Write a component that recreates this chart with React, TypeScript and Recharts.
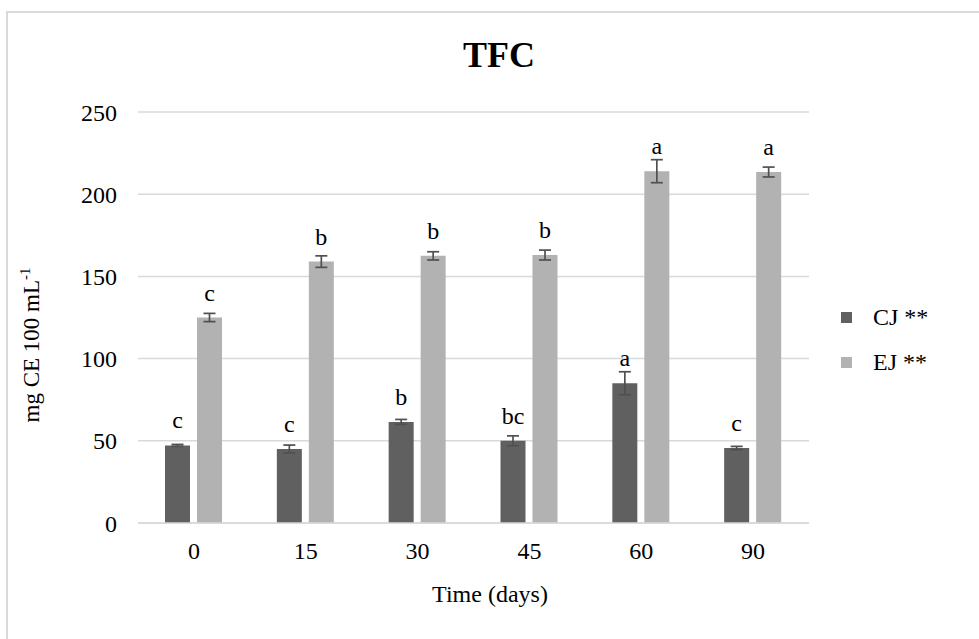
import { BarChart, Bar, XAxis, YAxis, CartesianGrid, ErrorBar, LabelList, Legend } from "recharts";

const days = ["0", "15", "30", "45", "60", "90"];
const cjValues = [47.2, 45, 61.5, 50, 85, 45.6];
const cjErrors = [0.6, 2.4, 1.5, 3, 7, 1];
const ejValues = [125, 159, 162.5, 163, 214, 213.5];
const ejErrors = [2.5, 3.5, 2.5, 3, 7, 3];
const cjLetters = ["c", "c", "b", "bc", "a", "c"];
const ejLetters = ["c", "b", "b", "b", "a", "a"];
const yTicks = [0, 50, 100, 150, 200, 250];

const data = days.map((d, i) => ({
  day: d,
  cj: cjValues[i],
  cjErr: cjErrors[i],
  cjLetter: cjLetters[i],
  ej: ejValues[i],
  ejErr: ejErrors[i],
  ejLetter: ejLetters[i],
}));

const FONT = "'Liberation Serif', 'Times New Roman', serif";
const CJ_COLOR = "#606060";
const EJ_COLOR = "#b2b2b2";
const GRID = "#d9d9d9";

const legendItems = [
  { label: "CJ **", color: CJ_COLOR },
  { label: "EJ **", color: EJ_COLOR },
];

function LegendBox() {
  return (
    <div style={{ fontFamily: FONT, fontSize: 24, color: "#000" }}>
      {legendItems.map((it) => (
        <div key={it.label} style={{ display: "flex", alignItems: "center", height: 45 }}>
          <span style={{ width: 11, height: 11, background: it.color, display: "inline-block", marginRight: 21 }} />
          <span>{it.label}</span>
        </div>
      ))}
    </div>
  );
}

export default function App() {
  return (
    <div style={{ position: "absolute", left: 0, top: 0, width: 979, height: 639, background: "#fff" }}>
      <svg width={979} height={639} style={{ position: "absolute", left: 0, top: 0 }}>
        <rect x={7} y={12} width={1000} height={700} fill="none" stroke={GRID} strokeWidth={2} />
      </svg>
      <div style={{ position: "absolute", left: 0, top: 0 }}>
        <BarChart
          width={979}
          height={639}
          data={data}
          margin={{ top: 112, right: 170, bottom: 86, left: 78 }}
          barSize={25}
          barGap={7}
        >
          <CartesianGrid vertical={false} stroke={GRID} strokeWidth={1.5} />
          <XAxis
            dataKey="day"
            height={30}
            axisLine={{ stroke: GRID, strokeWidth: 1.5 }}
            tickLine={false}
            tickSize={0}
            tickMargin={19}
            tick={{ fontFamily: FONT, fontSize: 24, fill: "#000" }}
          />
          <YAxis
            width={60}
            domain={[0, 250]}
            ticks={yTicks}
            axisLine={false}
            tickLine={false}
            tickSize={0}
            tickMargin={21}
            tick={{ fontFamily: FONT, fontSize: 24, fill: "#000" }}
          />
          <Legend
            layout="vertical"
            align="center"
            verticalAlign="middle"
            content={() => <LegendBox />}
            wrapperStyle={{ left: 841, top: 295, width: 130 }}
          />
          <Bar dataKey="cj" name="CJ **" fill={CJ_COLOR} isAnimationActive={false}>
            <ErrorBar dataKey="cjErr" width={6} stroke="#505050" strokeWidth={1.7} direction="y" />
            <LabelList dataKey="cjLetter" position="top" offset={17} style={{ fontFamily: FONT, fontSize: 24, fill: "#000" }} />
          </Bar>
          <Bar dataKey="ej" name="EJ **" fill={EJ_COLOR} isAnimationActive={false}>
            <ErrorBar dataKey="ejErr" width={6} stroke="#505050" strokeWidth={1.7} direction="y" />
            <LabelList dataKey="ejLetter" position="top" offset={17} style={{ fontFamily: FONT, fontSize: 24, fill: "#000" }} />
          </Bar>
        </BarChart>
      </div>
      <svg width={979} height={639} style={{ position: "absolute", left: 0, top: 0, pointerEvents: "none" }}>
        <text x={499} y={67} textAnchor="middle" fontFamily={FONT} fontSize={36} fontWeight="bold" fill="#000">
          TFC
        </text>
        <text x={490} y={602} textAnchor="middle" fontFamily={FONT} fontSize={24} fill="#000">
          Time (days)
        </text>
        <text
          transform="translate(39, 345) rotate(-90)"
          textAnchor="middle"
          fontFamily={FONT}
          fontSize={23}
          fill="#000"
        >
          mg CE 100 mL
          <tspan fontSize={15} dy={-9}>-1</tspan>
        </text>
      </svg>
    </div>
  );
}
